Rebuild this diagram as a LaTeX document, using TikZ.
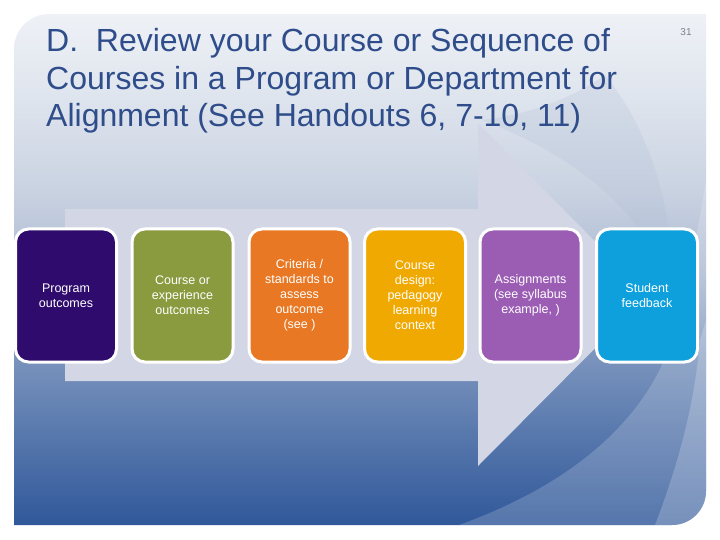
\documentclass[tikz,border=0pt]{standalone}
\usepackage{fontspec}
\setmainfont{Liberation Sans}
\definecolor{bgT}{HTML}{EEF1F6}
\definecolor{bgA1}{HTML}{DFE5EE}
\definecolor{bgA2}{HTML}{CAD3E2}
\definecolor{bgB}{HTML}{AEBCD3}
\definecolor{bgC}{HTML}{7892BC}
\definecolor{bgD}{HTML}{30589A}
\definecolor{arrowfill}{HTML}{D3D7E5}
\definecolor{titleblue}{HTML}{2E4D8A}
\definecolor{cA}{HTML}{2E0B6C}
\definecolor{cB}{HTML}{8A9A3F}
\definecolor{cC}{HTML}{E87823}
\definecolor{cD}{HTML}{F0A900}
\definecolor{cE}{HTML}{9B5CB4}
\definecolor{cF}{HTML}{0DA0DC}
\pgfdeclareverticalshading{bgshade}{100bp}{color(0bp)=(bgD); color(25bp)=(bgD); color(41bp)=(bgC); color(50bp)=(bgB); color(58bp)=(bgA2); color(67bp)=(bgA1); color(75bp)=(bgT); color(100bp)=(bgT)}
\tikzset{
  stage/.style={rounded corners=13pt, draw=white, line width=3pt, minimum width=101pt, minimum height=133pt, text=white, align=center, inner sep=2pt, font=\fontsize{12.5}{15}\selectfont},
  titleline/.style={anchor=base west, inner sep=0pt, text=titleblue, font=\fontsize{32}{38}\selectfont}
}
\begin{document}
\begin{tikzpicture}[x=1pt,y=-1pt]
\useasboundingbox (0,0) rectangle (720,540);
\fill[white] (0,0) rectangle (720,540);
% panel
\path[shading=bgshade] (14,525) -- (14,49) .. controls (14,29.7) and (29.7,14) .. (49,14) -- (706,14) -- (706,491) .. controls (706,509.8) and (690.8,525) .. (672,525) -- cycle;
\begin{scope}
\clip (14,525) -- (14,49) .. controls (14,29.7) and (29.7,14) .. (49,14) -- (706,14) -- (706,491) .. controls (706,509.8) and (690.8,525) .. (672,525) -- cycle;
% upper swoosh
\fill[bgB, opacity=0.22] (482,120) .. controls (560,150) and (615,190) .. (650,245) -- (670,245) .. controls (665,185) and (645,125) .. (605,75) .. controls (570,100) and (525,115) .. (482,120) -- cycle;
% lower swooshes
\fill[white, opacity=0.18] (459,525) .. controls (570,485) and (650,420) .. (675,330) .. controls (690,270) and (700,220) .. (706,180) -- (706,525) -- cycle;
\fill[white, opacity=0.2] (655,525) .. controls (680,460) and (695,400) .. (700,340) -- (706,320) -- (706,525) -- cycle;
\end{scope}
% arrow
\fill[arrowfill] (65,209) -- (478,209) -- (478,123) -- (648,295) -- (478,466) -- (478,381) -- (65,381) -- cycle;
% title
\node[titleline] (t1) at (46,52) {D.\ \ Review your Course or Sequence of};
\node[titleline] (t2) at (46,90) {Courses in a Program or Department for};
\node[titleline] (t3) at (46,127) {Alignment (See Handouts 6, 7-10, 11)};
\node[text=gray, font=\fontsize{10}{12}\selectfont, inner sep=0pt] (pg) at (686,32) {31};
% stages
\node[stage, fill=cA] (b1) at (66,295.5) {Program\\outcomes};
\node[stage, fill=cB] (b2) at (182.5,295.5) {Course or\\experience\\outcomes};
\node[stage, fill=cC] (b3) at (299.5,295.5) {Criteria /\\standards to\\assess\\outcome\\(see )};
\node[stage, fill=cD] (b4) at (415,295.5) {Course\\design:\\pedagogy\\learning\\context};
\node[stage, fill=cE] (b5) at (530.5,295.5) {Assignments\\(see syllabus\\example, )};
\node[stage, fill=cF] (b6) at (647,295.5) {Student\\feedback};
\end{tikzpicture}
\end{document}
